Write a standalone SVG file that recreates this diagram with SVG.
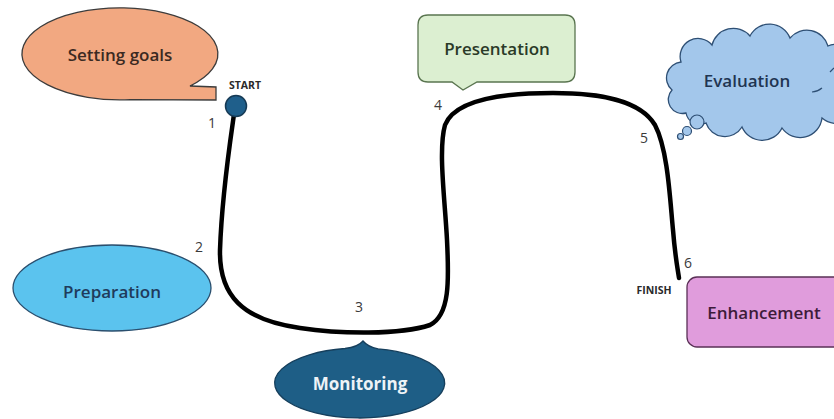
<svg xmlns="http://www.w3.org/2000/svg" width="834" height="419" viewBox="0 0 834 419">
<style>
.lbl{font-family:"Open Sans","Liberation Sans",sans-serif;font-size:17px;text-anchor:middle;dominant-baseline:central;font-weight:600}
.num{font-family:"Open Sans","Liberation Sans",sans-serif;font-size:14px;fill:#3a3a3a;text-anchor:middle;font-weight:500}
.tag{font-family:"Open Sans","Liberation Sans",sans-serif;font-size:10.5px;font-weight:700;fill:#2a2a2a;text-anchor:middle}
.path{fill:none;stroke:#000;stroke-width:4.5;stroke-linecap:round;stroke-linejoin:round}
</style>
<rect width="834" height="419" fill="#ffffff"/>
<g id="connectors">
<path class="path" d="M235,107 C232,130 222,190 220,250 C219,295 242,320 300,328 C340,334 400,335 430,325 C450,315 449,280 447,240 C445,200 438,150 445,125 C455,100 500,93 553,93 C600,93 640,100 655,125 C668,150 670,200 673,230 C675,255 677,265 679,278"/>
</g>
<g id="start">
<circle cx="236" cy="106" r="10.5" fill="#1F5F8B" stroke="#163a55" stroke-width="1.5"/>
<text class="tag" x="245" y="89">START</text>
</g>
<g id="finish">
<text class="tag" x="654" y="294">FINISH</text>
</g>
<g id="numbers">
<text class="num" x="212" y="128">1</text>
<text class="num" x="199" y="252">2</text>
<text class="num" x="359" y="312">3</text>
<text class="num" x="438" y="110">4</text>
<text class="num" x="644" y="143">5</text>
<text class="num" x="688" y="268">6</text>
</g>
<g id="setting-goals">
<path d="M190,86 A98,46 0 1 0 130,99.6 L216,100 L216,87 Z" fill="#F2A881" stroke="#3c3c3c" stroke-width="1.3"/>
<text class="lbl" x="120" y="54" fill="#3b2a22">Setting goals</text>
</g>
<g id="preparation">
<ellipse cx="112" cy="288" rx="99" ry="43" fill="#5BC3EE" stroke="#2B4F6E" stroke-width="1.3"/>
<text class="lbl" x="112" y="291" fill="#1f3b5c">Preparation</text>
</g>
<g id="monitoring">
<path d="M345,348.5 Q358,347 363,341 Q368,347 378,348.8 A85,35 0 1 1 345,348.5 Z" fill="#1E5E86" stroke="#163f5c" stroke-width="1.3"/>
<text class="lbl" x="360" y="383" fill="#eef3f7" style="font-weight:700">Monitoring</text>
</g>
<g id="presentation">
<path d="M428,15 H565 Q575,15 575,25 V72 Q575,82 565,82 H477 L463,90 L452,82 H428 Q418,82 418,72 V25 Q418,15 428,15 Z" fill="#DCEFD1" stroke="#5A7550" stroke-width="1.3"/>
<text class="lbl" x="497" y="48" fill="#2a3a28">Presentation</text>
</g>
<g id="evaluation">
<path d="M686,113 A14,14 0 0 1 672,90 A16,16 0 0 1 681,62 A18,18 0 0 1 712,45 A22,22 0 0 1 750,36 A22,22 0 0 1 790,38 A22,22 0 0 1 828,46 A22,22 0 0 1 852,82 A22,22 0 0 1 822,118 A22,22 0 0 1 782,128 A22,22 0 0 1 742,127 A20,20 0 0 1 706,123 A14,14 0 0 1 686,113 Z" fill="#A3C7EB" stroke="#2E4F74" stroke-width="1.3"/>
<path d="M812,92 A18,18 0 0 0 822,88" fill="none" stroke="#2E4F74" stroke-width="1.2"/>
<path d="M830,72 L834,68" fill="none" stroke="#2E4F74" stroke-width="1.2"/>
<circle cx="697" cy="122" r="7" fill="#A3C7EB" stroke="#2E4F74" stroke-width="1.2"/>
<circle cx="687" cy="131" r="4.5" fill="#A3C7EB" stroke="#2E4F74" stroke-width="1.2"/>
<circle cx="680.5" cy="136.5" r="3" fill="#A3C7EB" stroke="#2E4F74" stroke-width="1.2"/>
<text class="lbl" x="747" y="80" fill="#1f3552">Evaluation</text>
</g>
<g id="enhancement">
<rect x="687" y="277" width="170" height="70" rx="10" fill="#E09CDC" stroke="#5a3056" stroke-width="1.3"/>
<text class="lbl" x="764" y="312" fill="#3d1b3a">Enhancement</text>
</g>
</svg>
